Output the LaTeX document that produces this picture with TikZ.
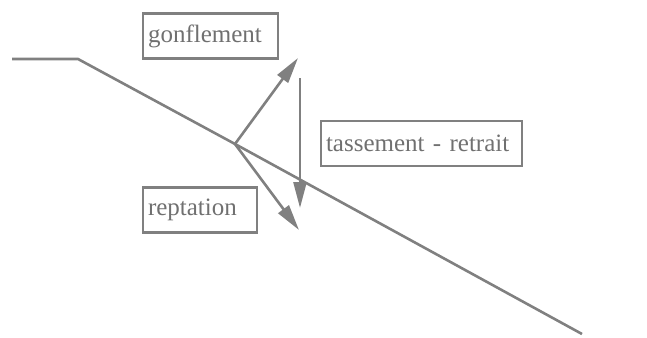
\documentclass[tikz,border=0pt]{standalone}
\usepackage{fontspec}
\setmainfont{Liberation Serif}
\usetikzlibrary{arrows.meta}
\definecolor{trait}{RGB}{128,128,128}
\definecolor{texte}{RGB}{112,112,112}
\tikzset{
  boite/.style={draw=trait,line width=2.4pt,text=texte,inner xsep=5pt,
    inner ysep=0pt,align=left,minimum height=45pt,
    font=\fontsize{25}{29}\selectfont},
  fleche/.style={draw=trait,line width=2.6pt,
    -{Triangle[length=26pt,width=13pt]}}
}
\begin{document}
\begin{tikzpicture}[x=1pt,y=-1pt]
    \useasboundingbox (0,0) rectangle (647,337);
    %% talus
    \coordinate (haut) at (12,59);
    \coordinate (crete) at (78,59);
    \coordinate (O) at (235,144);
    \coordinate (pied) at (582,334);
    \draw[trait,line width=2.6pt] (haut) -- (crete) -- (O) -- (pied);
    %% boites
    \node (gonf) at (210.5,36) [boite,text width=125pt] {gonflement};
    \node (rept) at (200,210) [boite,text width=104pt] {reptation};
    \node (tass) at (421.5,143.5) [boite,text width=191pt] {tassement - retrait};
    %% mouvements
    \coordinate (g) at (298,58);
    \coordinate (r) at (299,230);
    \coordinate (t1) at (300,78);
    \coordinate (t2) at (300,208);
    \draw[fleche] (O) -- (g);
    \draw[fleche] (O) -- (r);
    \draw[fleche] (t1) -- (t2);
\end{tikzpicture}
\end{document}
